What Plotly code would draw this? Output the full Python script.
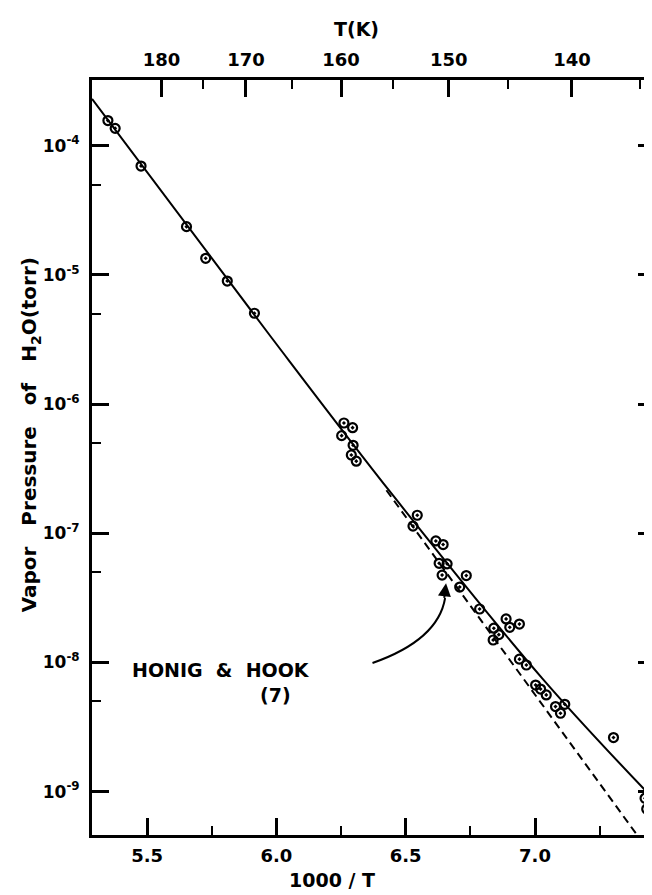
import plotly.graph_objects as go

# ---- data ----
inv_T = [5.3485, 5.3766, 5.4766, 5.6524, 5.7266, 5.8101, 5.9151,
         6.2612, 6.2947, 6.2524, 6.2966, 6.2897, 6.3089,
         6.5447, 6.5282, 6.6166, 6.6447, 6.6293, 6.6601, 6.6408, 6.7343, 6.7089,
         6.7858, 6.8882, 6.9024, 6.9397, 6.8408, 6.8601, 6.8382, 6.9397, 6.9666,
         7.0024, 7.0216, 7.0435, 7.0793, 7.1151, 7.0985, 7.3035, 7.4255, 7.4320]
pressure = [1.563e-4, 1.361e-4, 6.95e-5, 2.36e-5, 1.343e-5, 8.95e-6, 5.04e-6,
            7.13e-7, 6.56e-7, 5.69e-7, 4.79e-7, 4.03e-7, 3.61e-7,
            1.377e-7, 1.135e-7, 8.71e-8, 8.17e-8, 5.85e-8, 5.79e-8, 4.74e-8, 4.70e-8, 3.83e-8,
            2.59e-8, 2.17e-8, 1.87e-8, 1.98e-8, 1.84e-8, 1.64e-8, 1.49e-8, 1.06e-8, 9.55e-9,
            6.68e-9, 6.22e-9, 5.60e-9, 4.55e-9, 4.74e-9, 4.04e-9, 2.62e-9, 8.87e-10, 7.33e-10]

fit_inv_T = [5.287, 5.983, 6.451, 7.028, 7.437]
fit_pressure = [2.30e-4, 3.23e-6, 1.96e-7, 7.53e-9, 9.70e-10]

hh_inv_T = [6.4255, 7.3947]          # Honig & Hook (7)
hh_pressure = [2.15e-7, 4.61e-10]

x_ticks = [5.5, 6.0, 6.5, 7.0]
x_ticktext = ["5.5", "6.0", "6.5", "7.0"]
x_minor = [5.75, 6.25, 6.75, 7.25]
T_major = [180, 170, 160, 150, 140]
T_minor = [175, 165, 155, 145, 135]
y_ticks = [1e-4, 1e-5, 1e-6, 1e-7, 1e-8, 1e-9]
y_ticktext = ["10<sup>-4</sup>", "10<sup>-5</sup>", "10<sup>-6</sup>",
              "10<sup>-7</sup>", "10<sup>-8</sup>", "10<sup>-9</sup>"]
y_minor = [5e-5, 5e-6, 5e-7, 5e-8, 5e-9]

X_RANGE = [5.287, 7.464]
Y_RANGE = [-9.336, -3.492]

FONT = "DejaVu Sans"
W, H = 652, 895
L, R, T, B = 84, 2, 72, 68

fig = go.Figure()
fig.add_trace(go.Scatter(x=fit_inv_T, y=fit_pressure, mode="lines",
                         line=dict(color="black", width=2, shape="spline", smoothing=1.0),
                         showlegend=False, hoverinfo="skip"))
fig.add_trace(go.Scatter(x=hh_inv_T, y=hh_pressure, mode="lines",
                         line=dict(color="black", width=2, dash="8px,5px"),
                         showlegend=False, hoverinfo="skip"))
fig.add_trace(go.Scatter(x=inv_T, y=pressure, mode="markers", cliponaxis=False,
                         marker=dict(symbol="circle-open-dot", size=9, color="black",
                                     line=dict(color="black", width=2.2)),
                         showlegend=False))
fig.add_trace(go.Scatter(x=[1000 / t for t in T_major], y=[None] * len(T_major),
                         xaxis="x2", mode="markers", showlegend=False, hoverinfo="skip"))

tickfont = dict(family=FONT, size=18, color="black", weight="bold")

fig.update_layout(
    width=W, height=H, margin=dict(l=L, r=R, t=T, b=B),
    paper_bgcolor="white", plot_bgcolor="white",
    xaxis=dict(range=X_RANGE, tickvals=x_ticks, ticktext=x_ticktext,
               ticks="inside", ticklen=17, tickwidth=2.5, tickcolor="black",
               showline=True, linewidth=3, linecolor="black", mirror=False,
               showgrid=False, zeroline=False, tickfont=tickfont, ticklabelstandoff=2,
               minor=dict(tickvals=x_minor, ticks="inside", ticklen=9, tickwidth=2,
                          tickcolor="black", showgrid=False)),
    xaxis2=dict(range=X_RANGE, overlaying="x", side="top",
                tickvals=[1000 / t for t in T_major], ticktext=[str(t) for t in T_major],
                ticks="inside", ticklen=17, tickwidth=2.5, tickcolor="black",
                showline=True, linewidth=3, linecolor="black",
                showgrid=False, zeroline=False, tickfont=tickfont, ticklabelstandoff=4,
                minor=dict(tickvals=[1000 / t for t in T_minor], ticks="inside", ticklen=9,
                           tickwidth=2, tickcolor="black", showgrid=False)),
    yaxis=dict(type="log", range=Y_RANGE, tickvals=y_ticks, ticktext=y_ticktext,
               ticks="inside", ticklen=17, tickwidth=2.5, tickcolor="black",
               showline=True, linewidth=3, linecolor="black", mirror="ticks",
               showgrid=False, zeroline=False,
               tickfont=dict(family=FONT, size=17, color="black", weight="bold"),
               ticklabelstandoff=6,
               minor=dict(tickvals=y_minor, ticks="inside", ticklen=9, tickwidth=2,
                          tickcolor="black", showgrid=False)),
)

pw, ph = W - L - R, H - T - B


def px(x, y):
    return (x - L) / pw, (H - B - y) / ph


def note(text, x, y, size, **kw):
    xp, yp = px(x, y)
    d = dict(text=text, x=xp, y=yp, xref="paper", yref="paper", showarrow=False,
             xanchor="center", yanchor="middle",
             font=dict(family=FONT, size=size, color="black", weight="bold"))
    d.update(kw)
    return d


annots = [
    note("T(K)", 350, 21, 19),
    note("1000 / T", 325, 872, 19),
    note("Vapor&nbsp;&nbsp; Pressure&nbsp;&nbsp; of&nbsp;&nbsp; H<sub>2</sub>O(torr)",
         22, 427, 20, textangle=-90),
    note("HONIG&nbsp; &amp;&nbsp; HOOK", 122, 662, 19, xanchor="left"),
    note("(7)", 268, 687, 19),
    # arrow head pointing at the dashed line
    dict(text="", x=6.656, y=-7.388, xref="x", yref="y", showarrow=True,
         ax=-2, ay=16, arrowhead=2, arrowsize=1.3, arrowwidth=2, arrowcolor="black"),
]
fig.update_layout(annotations=annots)

# curved arrow stem
p0 = px(366, 655)
p1 = px(432, 632)
p2 = px(439, 590)
fig.add_shape(type="path", xref="paper", yref="paper",
              path=f"M {p0[0]},{p0[1]} Q {p1[0]},{p1[1]} {p2[0]},{p2[1]}",
              line=dict(color="black", width=2))

fig.write_html("out.html")
